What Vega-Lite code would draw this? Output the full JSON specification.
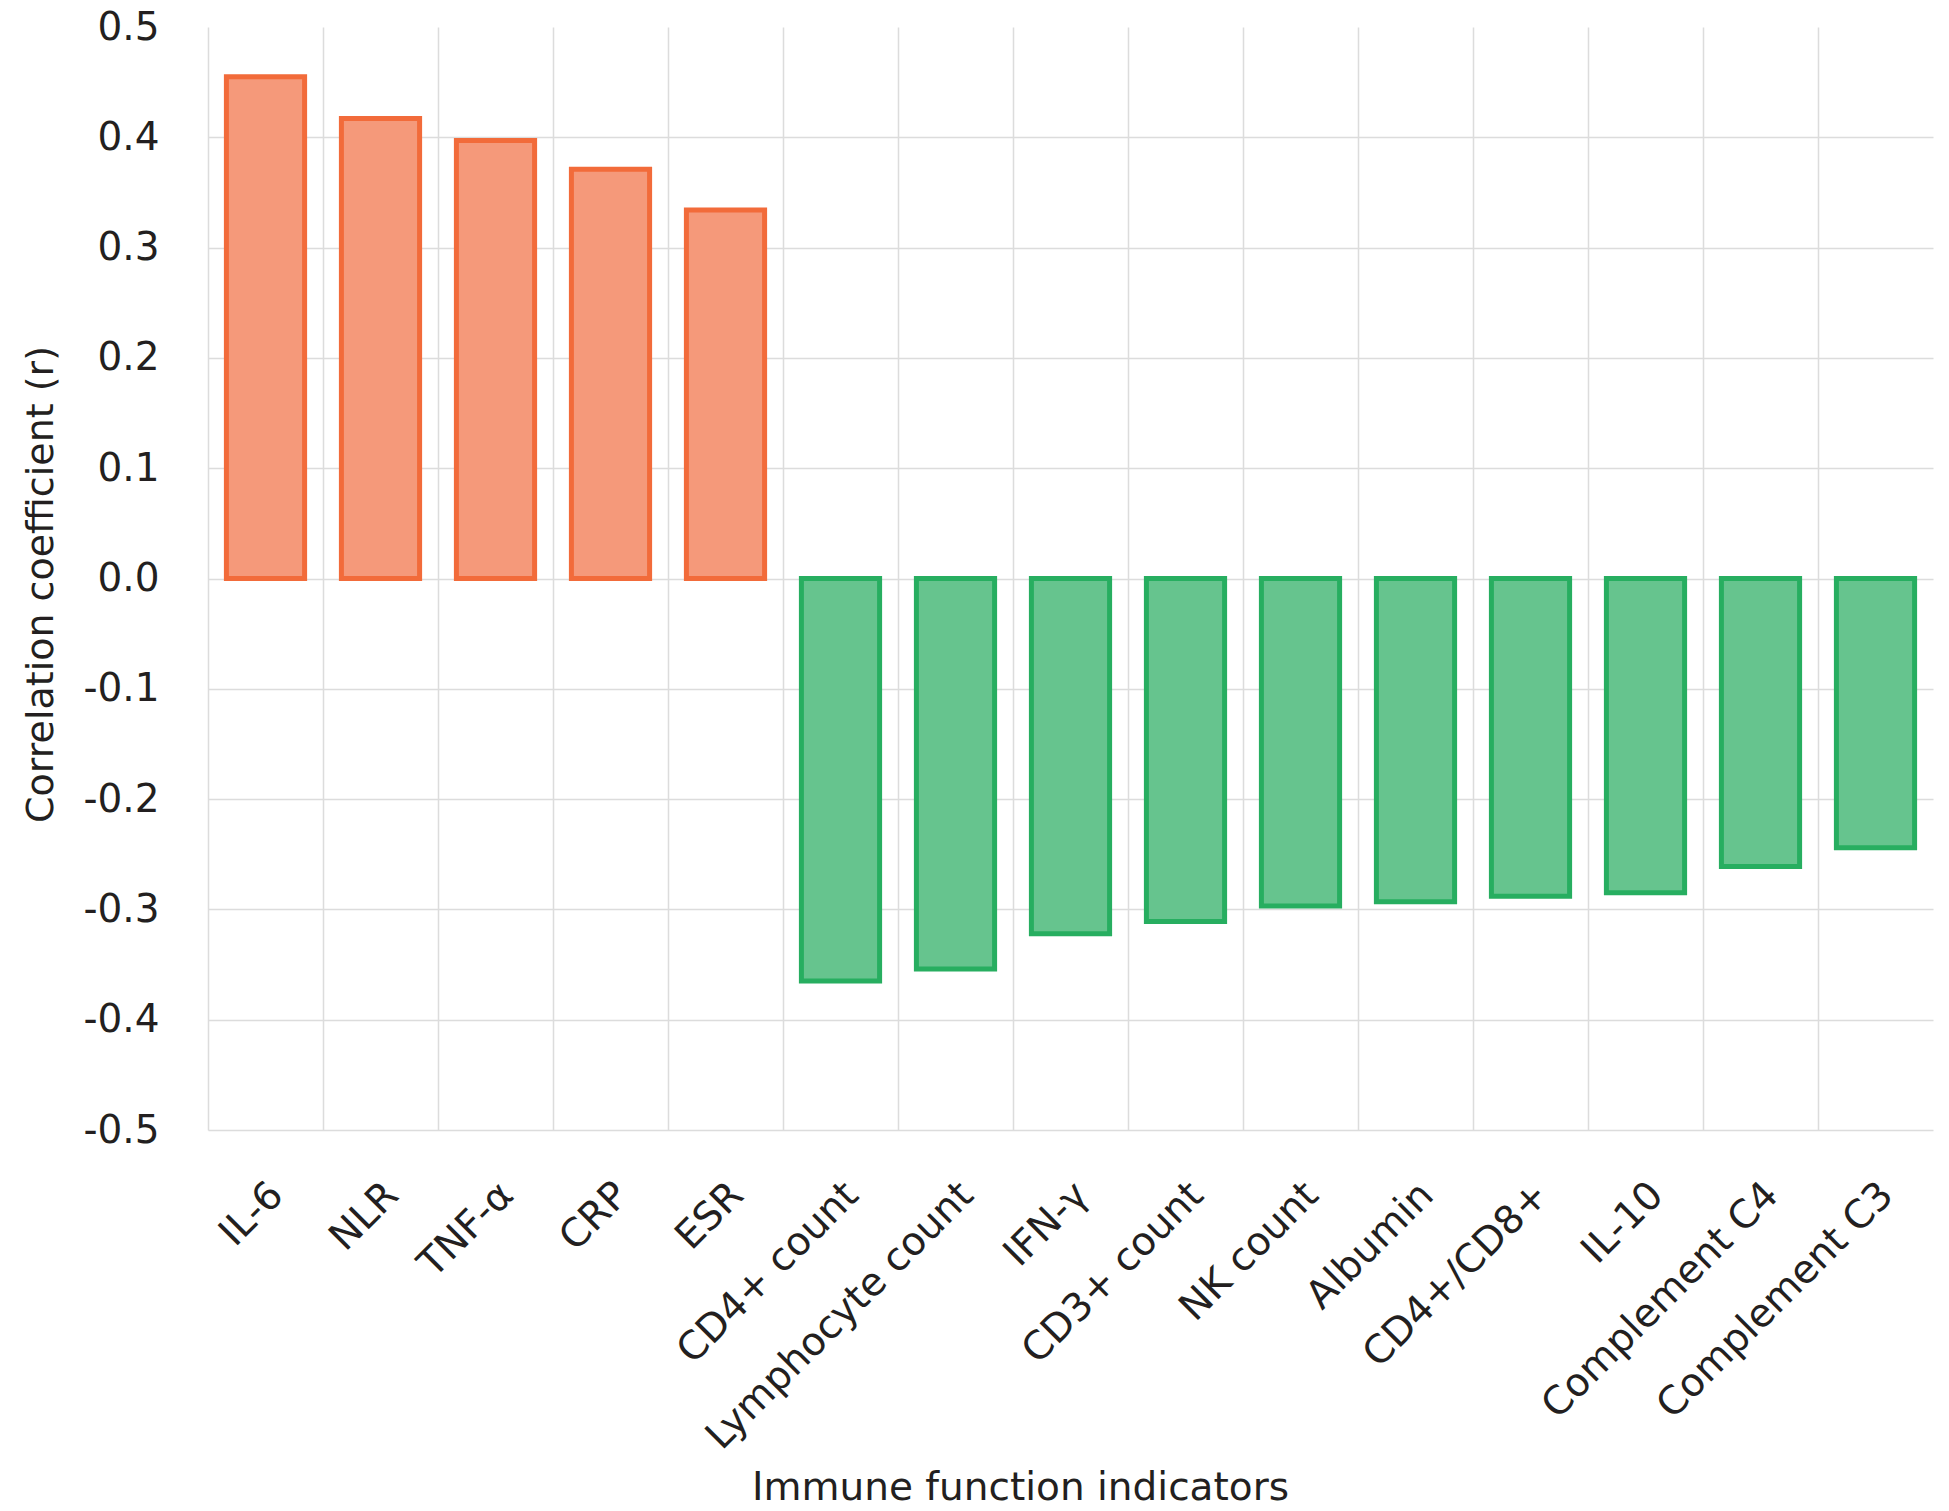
{
  "$schema": "https://vega.github.io/schema/vega-lite/v6.json",
  "width": 1725,
  "height": 1103,
  "autosize": {"type": "none"},
  "padding": {"left": 208, "top": 27, "right": 16, "bottom": 381},
  "background": "white",
  "config": {"view": {"stroke": null}, "font": "DejaVu Sans"},
  "data": {
    "values": [
      {"indicator": "IL-6", "r": 0.455},
      {"indicator": "NLR", "r": 0.417},
      {"indicator": "TNF-α", "r": 0.397},
      {"indicator": "CRP", "r": 0.371},
      {"indicator": "ESR", "r": 0.334},
      {"indicator": "CD4+ count", "r": -0.365},
      {"indicator": "Lymphocyte count", "r": -0.354},
      {"indicator": "IFN-γ", "r": -0.322},
      {"indicator": "CD3+ count", "r": -0.311},
      {"indicator": "NK count", "r": -0.297},
      {"indicator": "Albumin", "r": -0.293},
      {"indicator": "CD4+/CD8+", "r": -0.288},
      {"indicator": "IL-10", "r": -0.285},
      {"indicator": "Complement C4", "r": -0.261},
      {"indicator": "Complement C3", "r": -0.244}
    ]
  },
  "mark": {"type": "bar", "strokeWidth": 5, "width": {"band": 0.68}},
  "encoding": {
    "x": {
      "field": "indicator",
      "type": "nominal",
      "sort": null,
      "scale": {"paddingInner": 0, "paddingOuter": 0},
      "axis": {
        "title": "Immune function indicators",
        "bandPosition": 0,
        "domain": false,
        "ticks": false,
        "tickSize": 0,
        "grid": true,
        "gridColor": "#DCDCDC",
        "gridWidth": 1.5,
        "labelAngle": -45,
        "labelAlign": "right",
        "labelBaseline": "top",
        "labelOffset": -2,
        "labelPadding": 45,
        "labelFontSize": 39,
        "labelColor": "#231F20",
        "labelLimit": 1000,
        "labelOverlap": false,
        "labelBound": false,
        "titleFontSize": 39,
        "titleFontWeight": "normal",
        "titleColor": "#231F20",
        "titleX": 812,
        "titleY": 369,
        "titleBaseline": "alphabetic",
        "titleAlign": "center"
      }
    },
    "y": {
      "field": "r",
      "type": "quantitative",
      "scale": {"domain": [-0.5, 0.5], "nice": false},
      "axis": {
        "title": "Correlation coefficient (r)",
        "values": [-0.5, -0.4, -0.3, -0.2, -0.1, 0, 0.1, 0.2, 0.3, 0.4, 0.5],
        "labelExpr": "datum.value < 0 ? '-' + format(-datum.value, '.1f') : format(datum.value, '.1f')",
        "domain": false,
        "ticks": false,
        "tickSize": 0,
        "labelPadding": 49,
        "labelFontSize": 39,
        "labelColor": "#231F20",
        "grid": true,
        "gridColor": "#DCDCDC",
        "gridWidth": 1.5,
        "gridOpacity": {"condition": {"test": "datum.value > 0.45", "value": 0}, "value": 1},
        "titleFontSize": 38,
        "titleFontWeight": "normal",
        "titleColor": "#231F20",
        "titleX": -156,
        "titleY": 557,
        "titleAngle": -90,
        "titleAlign": "center",
        "titleBaseline": "alphabetic"
      }
    },
    "fill": {"condition": {"test": "datum.r > 0", "value": "#F5997A"}, "value": "#66C48E"},
    "stroke": {"condition": {"test": "datum.r > 0", "value": "#F26B3A"}, "value": "#27AE60"}
  }
}
